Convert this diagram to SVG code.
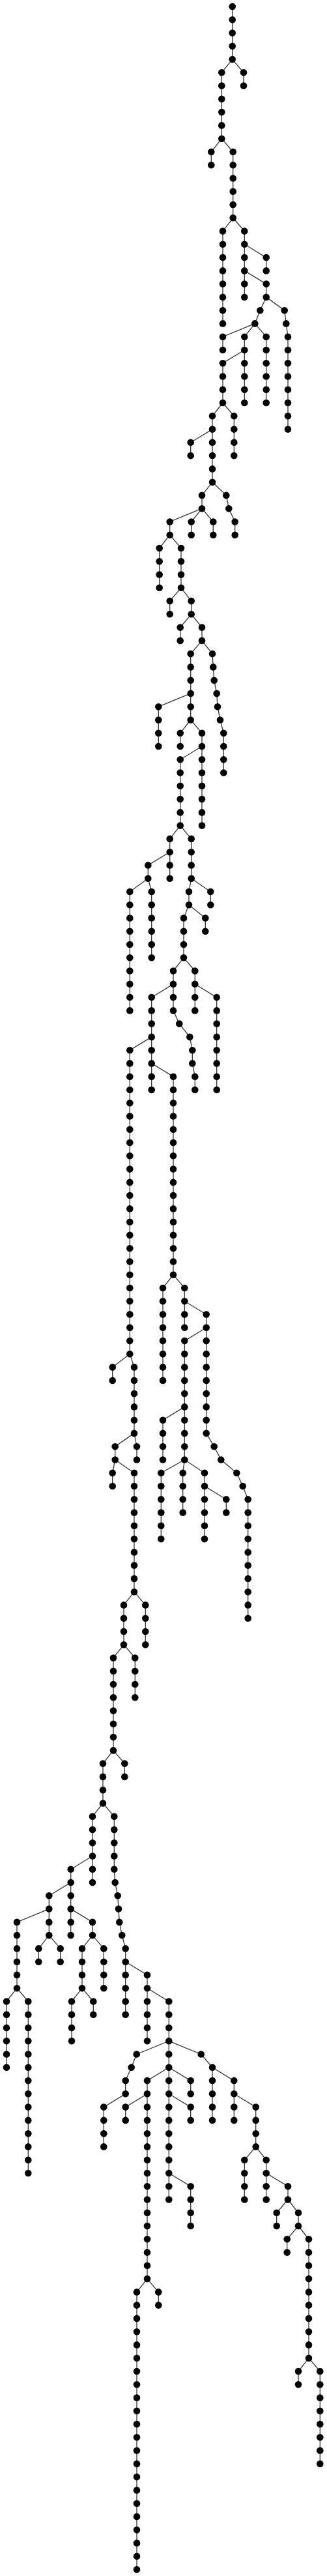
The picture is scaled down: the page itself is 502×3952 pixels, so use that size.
<svg xmlns="http://www.w3.org/2000/svg" width="502" height="3952" viewBox="0 0 502 3952">
<style>
.e{fill:none;stroke:#333;stroke-width:1.3}
circle{r:5.3px;fill:#000}
</style>
<rect width="502" height="3952" fill="#fff"/>
<g id="connectors">
<path class="e" d="M356.7,10 V91.1"/>
<path class="e" d="M356.7,91.1 L374,111.3 V131.6"/>
<path class="e" d="M356.7,91.1 L340.3,111.3 V212.7"/>
<path class="e" d="M340.3,212.7 L324.3,233 V253.2"/>
<path class="e" d="M340.3,212.7 L357.7,233 V334.3"/>
<path class="e" d="M357.7,334.3 L375.3,354.6 V455.9"/>
<path class="e" d="M375.3,374.8 L408.7,395.1 V415.4"/>
<path class="e" d="M375.3,415.4 L408.7,435.6 V455.9"/>
<path class="e" d="M408.7,455.9 L436.7,476.2 L439.3,496.4 L442,516.7 V658.6"/>
<path class="e" d="M408.7,455.9 L399.3,476.2 L391.3,496.4"/>
<path class="e" d="M391.3,496.4 L408.7,516.7 V618"/>
<path class="e" d="M391.3,496.4 L375.3,516.7 V618"/>
<path class="e" d="M391.3,496.4 L342,516.7 V537"/>
<path class="e" d="M375.3,537 L342,557.2 V618"/>
<path class="e" d="M357.7,334.3 L342,354.6 V496.4"/>
<path class="e" d="M342,618 L359.3,638.3 V699.1"/>
<path class="e" d="M342,618 L326,638.3 V739.7"/>
<path class="e" d="M326,658.6 L292.7,678.8 V699.1"/>
<path class="e" d="M326,739.7 L347.3,759.9 L351.3,780.2 L360.7,800.5 V820.7"/>
<path class="e" d="M326,739.7 L310,759.9 V780.2"/>
<path class="e" d="M310,780.2 L327.3,800.5 V820.7"/>
<path class="e" d="M310,780.2 L293.7,800.5 V820.7"/>
<path class="e" d="M310,780.2 L260.7,800.5 V820.7"/>
<path class="e" d="M260.7,820.7 L244.7,841 V901.8"/>
<path class="e" d="M260.7,820.7 L278,841 V901.8"/>
<path class="e" d="M278,901.8 L260.7,922.1 V942.3"/>
<path class="e" d="M278,901.8 L293.7,922.1 V942.3"/>
<path class="e" d="M293.7,942.3 L276.7,962.6 V982.9"/>
<path class="e" d="M293.7,942.3 L310,962.6 V982.9"/>
<path class="e" d="M310,982.9 L326,1003.1 L327.3,1023.4 L328.7,1043.7 L332.7,1063.9 L334,1084.2 L338,1104.5 L343.3,1124.7 V1185.5"/>
<path class="e" d="M310,982.9 L292.7,1003.1 V1104.5"/>
<path class="e" d="M292.7,1063.9 L243.3,1084.2 V1145"/>
<path class="e" d="M292.7,1104.5 L276.7,1124.7 V1145"/>
<path class="e" d="M292.7,1104.5 L310,1124.7 V1266.6"/>
<path class="e" d="M310,1145 L276.7,1165.3 V1266.6"/>
<path class="e" d="M276.7,1266.6 L293.7,1286.9 V1347.7"/>
<path class="e" d="M276.7,1266.6 L260.7,1286.9 V1347.7"/>
<path class="e" d="M260.7,1307.2 L227.3,1327.4 V1347.7"/>
<path class="e" d="M227.3,1347.7 L199.3,1368 V1550.4"/>
<path class="e" d="M227.3,1347.7 L232.7,1368 V1469.3"/>
<path class="e" d="M293.7,1347.7 L323.3,1368 V1388.2"/>
<path class="e" d="M293.7,1347.7 L290,1368 V1388.2"/>
<path class="e" d="M290,1388.2 L315.3,1408.5 V1428.8"/>
<path class="e" d="M290,1388.2 L282,1408.5 V1469.3"/>
<path class="e" d="M282,1469.3 L299.3,1489.6 V1550.4"/>
<path class="e" d="M299.3,1509.8 L332.7,1530.1 V1672"/>
<path class="e" d="M282,1469.3 L266,1489.6 V1550.4 L275.3,1570.6 L291.3,1590.9 L295.3,1611.2 V1631.4 L299.3,1651.7 V1672"/>
<path class="e" d="M266,1509.8 L232.7,1530.1 V1672"/>
<path class="e" d="M232.7,1590.9 L199.3,1611.2 V2077.3"/>
<path class="e" d="M232.7,1631.4 L266,1651.7 V1955.7"/>
<path class="e" d="M266,1955.7 L283.3,1976 V2036.8"/>
<path class="e" d="M283.3,1996.3 L316.7,2016.5 V2198.9 L328.7,2219.2 L339.3,2239.5 L363.3,2259.8 L372.7,2280 L380.7,2300.3 V2482.7"/>
<path class="e" d="M316.7,2036.8 L283.3,2057.1 V2239.5"/>
<path class="e" d="M283.3,2158.4 L250,2178.7 V2239.5"/>
<path class="e" d="M283.3,2239.5 L247.3,2259.8 V2361.1"/>
<path class="e" d="M283.3,2239.5 L280.7,2259.8 V2320.6"/>
<path class="e" d="M283.3,2239.5 L314,2259.8 V2361.1"/>
<path class="e" d="M314,2280 L347.3,2300.3 V2320.6"/>
<path class="e" d="M266,1955.7 L250,1976 V2117.9"/>
<path class="e" d="M199.3,2077.3 L172.7,2097.6 V2117.9"/>
<path class="e" d="M199.3,2077.3 L206,2097.6 V2198.9"/>
<path class="e" d="M206,2198.9 L210,2219.2 V2239.5"/>
<path class="e" d="M206,2198.9 L176.7,2219.2 V2239.5"/>
<path class="e" d="M176.7,2239.5 L172.7,2259.8 V2280"/>
<path class="e" d="M176.7,2239.5 L206,2259.8 V2442.2"/>
<path class="e" d="M206,2442.2 L223.3,2462.4 V2523.2"/>
<path class="e" d="M206,2442.2 L190,2462.4 V2523.2"/>
<path class="e" d="M190,2523.2 L207.3,2543.5 V2604.3"/>
<path class="e" d="M190,2523.2 L174,2543.5 V2685.4"/>
<path class="e" d="M174,2685.4 L191.3,2705.6 V2725.9"/>
<path class="e" d="M174,2685.4 L158,2705.6 V2766.5"/>
<path class="e" d="M158,2766.5 L142,2786.7 V2888.1"/>
<path class="e" d="M142,2847.5 L108.7,2867.8 V2969.1"/>
<path class="e" d="M108.7,2888.1 L75.3,2908.3 V2969.1"/>
<path class="e" d="M108.7,2928.6 L142,2948.9 V2969.1"/>
<path class="e" d="M75.3,2928.6 L26,2948.9 V3050.2"/>
<path class="e" d="M75.3,2969.1 L59.3,2989.4 V3009.7"/>
<path class="e" d="M75.3,2969.1 L92.7,2989.4 V3009.7"/>
<path class="e" d="M142,2969.1 L126,2989.4 V3050.2"/>
<path class="e" d="M142,2969.1 L159.3,2989.4 V3050.2"/>
<path class="e" d="M26,3050.2 L10,3070.5 V3171.8"/>
<path class="e" d="M26,3050.2 L43.3,3070.5 V3334"/>
<path class="e" d="M126,3050.2 L110,3070.5 V3131.3"/>
<path class="e" d="M126,3050.2 L143.3,3070.5 V3090.7"/>
<path class="e" d="M158,2766.5 L175.3,2786.7 V2867.8 L176.7,2888.1 L180.7,2908.3 L182,2928.6 L183.3,2948.9 L187.3,2969.1 L192.7,2989.4 V3090.7"/>
<path class="e" d="M192.7,3009.7 L226,3029.9 V3131.3"/>
<path class="e" d="M226,3050.2 L259.3,3070.5 V3374.5"/>
<path class="e" d="M259.3,3131.3 L209.7,3151.5 L201.7,3171.8 L192.7,3192.1 V3212.3 L159.3,3232.6 V3293.4"/>
<path class="e" d="M259.3,3212.3 L292.7,3232.6 V3252.9"/>
<path class="e" d="M259.3,3334 L292.7,3354.2 V3415"/>
<path class="e" d="M259.3,3171.8 L226,3192.1 V3496.1"/>
<path class="e" d="M226,3212.3 L192.7,3232.6 V3252.9"/>
<path class="e" d="M226,3496.1 L243.3,3516.4 V3536.6"/>
<path class="e" d="M226,3496.1 L210,3516.4 V3942"/>
<path class="e" d="M259.3,3171.8 L292.7,3192.1 V3212.3"/>
<path class="e" d="M259.3,3131.3 L308.7,3151.5 L326,3171.8 V3252.9"/>
<path class="e" d="M326,3171.8 L359.3,3192.1 V3252.9"/>
<path class="e" d="M359.3,3212.3 L392.7,3232.6 V3293.4"/>
<path class="e" d="M392.7,3293.4 L375.3,3313.7 V3374.5"/>
<path class="e" d="M392.7,3293.4 L408.7,3313.7 V3374.5"/>
<path class="e" d="M408.7,3334 L442,3354.2 V3374.5"/>
<path class="e" d="M442,3374.5 L424.7,3394.8 V3415"/>
<path class="e" d="M442,3374.5 L458,3394.8 V3415"/>
<path class="e" d="M458,3415 L440.7,3435.3 V3455.6"/>
<path class="e" d="M458,3415 L474,3435.3 V3617.7"/>
<path class="e" d="M474,3617.7 L458,3638 V3658.2"/>
<path class="e" d="M474,3617.7 L491.3,3638 V3779.9"/>
</g>
<g id="nodes">
<g id="n0"><circle cx="356.7" cy="10"/></g>
<g id="n1"><circle cx="356.7" cy="30.3"/></g>
<g id="n2"><circle cx="356.7" cy="50.5"/></g>
<g id="n3"><circle cx="356.7" cy="70.8"/></g>
<g id="n4"><circle cx="356.7" cy="91.1"/></g>
<g id="n5"><circle cx="374" cy="111.3"/></g>
<g id="n6"><circle cx="374" cy="131.6"/></g>
<g id="n7"><circle cx="340.3" cy="111.3"/></g>
<g id="n8"><circle cx="340.3" cy="131.6"/></g>
<g id="n9"><circle cx="340.3" cy="151.9"/></g>
<g id="n10"><circle cx="340.3" cy="172.1"/></g>
<g id="n11"><circle cx="340.3" cy="192.4"/></g>
<g id="n12"><circle cx="340.3" cy="212.7"/></g>
<g id="n13"><circle cx="324.3" cy="233"/></g>
<g id="n14"><circle cx="324.3" cy="253.2"/></g>
<g id="n15"><circle cx="357.7" cy="233"/></g>
<g id="n16"><circle cx="357.7" cy="253.2"/></g>
<g id="n17"><circle cx="357.7" cy="273.5"/></g>
<g id="n18"><circle cx="357.7" cy="293.8"/></g>
<g id="n19"><circle cx="357.7" cy="314"/></g>
<g id="n20"><circle cx="357.7" cy="334.3"/></g>
<g id="n21"><circle cx="375.3" cy="354.6"/></g>
<g id="n22"><circle cx="375.3" cy="374.8"/></g>
<g id="n23"><circle cx="375.3" cy="395.1"/></g>
<g id="n24"><circle cx="375.3" cy="415.4"/></g>
<g id="n25"><circle cx="375.3" cy="435.6"/></g>
<g id="n26"><circle cx="375.3" cy="455.9"/></g>
<g id="n27"><circle cx="408.7" cy="395.1"/></g>
<g id="n28"><circle cx="408.7" cy="415.4"/></g>
<g id="n29"><circle cx="408.7" cy="435.6"/></g>
<g id="n30"><circle cx="408.7" cy="455.9"/></g>
<g id="n31"><circle cx="436.7" cy="476.2"/></g>
<g id="n32"><circle cx="439.3" cy="496.4"/></g>
<g id="n33"><circle cx="442" cy="516.7"/></g>
<g id="n34"><circle cx="442" cy="537"/></g>
<g id="n35"><circle cx="442" cy="557.2"/></g>
<g id="n36"><circle cx="442" cy="577.5"/></g>
<g id="n37"><circle cx="442" cy="597.8"/></g>
<g id="n38"><circle cx="442" cy="618"/></g>
<g id="n39"><circle cx="442" cy="638.3"/></g>
<g id="n40"><circle cx="442" cy="658.6"/></g>
<g id="n41"><circle cx="399.3" cy="476.2"/></g>
<g id="n42"><circle cx="391.3" cy="496.4"/></g>
<g id="n43"><circle cx="408.7" cy="516.7"/></g>
<g id="n44"><circle cx="408.7" cy="537"/></g>
<g id="n45"><circle cx="408.7" cy="557.2"/></g>
<g id="n46"><circle cx="408.7" cy="577.5"/></g>
<g id="n47"><circle cx="408.7" cy="597.8"/></g>
<g id="n48"><circle cx="408.7" cy="618"/></g>
<g id="n49"><circle cx="375.3" cy="516.7"/></g>
<g id="n50"><circle cx="375.3" cy="537"/></g>
<g id="n51"><circle cx="375.3" cy="557.2"/></g>
<g id="n52"><circle cx="375.3" cy="577.5"/></g>
<g id="n53"><circle cx="375.3" cy="597.8"/></g>
<g id="n54"><circle cx="375.3" cy="618"/></g>
<g id="n55"><circle cx="342" cy="516.7"/></g>
<g id="n56"><circle cx="342" cy="537"/></g>
<g id="n57"><circle cx="342" cy="557.2"/></g>
<g id="n58"><circle cx="342" cy="577.5"/></g>
<g id="n59"><circle cx="342" cy="597.8"/></g>
<g id="n60"><circle cx="342" cy="618"/></g>
<g id="n61"><circle cx="342" cy="354.6"/></g>
<g id="n62"><circle cx="342" cy="374.8"/></g>
<g id="n63"><circle cx="342" cy="395.1"/></g>
<g id="n64"><circle cx="342" cy="415.4"/></g>
<g id="n65"><circle cx="342" cy="435.6"/></g>
<g id="n66"><circle cx="342" cy="455.9"/></g>
<g id="n67"><circle cx="342" cy="476.2"/></g>
<g id="n68"><circle cx="342" cy="496.4"/></g>
<g id="n69"><circle cx="359.3" cy="638.3"/></g>
<g id="n70"><circle cx="359.3" cy="658.6"/></g>
<g id="n71"><circle cx="359.3" cy="678.8"/></g>
<g id="n72"><circle cx="359.3" cy="699.1"/></g>
<g id="n73"><circle cx="326" cy="638.3"/></g>
<g id="n74"><circle cx="326" cy="658.6"/></g>
<g id="n75"><circle cx="326" cy="678.8"/></g>
<g id="n76"><circle cx="326" cy="699.1"/></g>
<g id="n77"><circle cx="326" cy="719.4"/></g>
<g id="n78"><circle cx="326" cy="739.7"/></g>
<g id="n79"><circle cx="292.7" cy="678.8"/></g>
<g id="n80"><circle cx="292.7" cy="699.1"/></g>
<g id="n81"><circle cx="347.3" cy="759.9"/></g>
<g id="n82"><circle cx="351.3" cy="780.2"/></g>
<g id="n83"><circle cx="360.7" cy="800.5"/></g>
<g id="n84"><circle cx="360.7" cy="820.7"/></g>
<g id="n85"><circle cx="310" cy="759.9"/></g>
<g id="n86"><circle cx="310" cy="780.2"/></g>
<g id="n87"><circle cx="327.3" cy="800.5"/></g>
<g id="n88"><circle cx="327.3" cy="820.7"/></g>
<g id="n89"><circle cx="293.7" cy="800.5"/></g>
<g id="n90"><circle cx="293.7" cy="820.7"/></g>
<g id="n91"><circle cx="260.7" cy="800.5"/></g>
<g id="n92"><circle cx="260.7" cy="820.7"/></g>
<g id="n93"><circle cx="244.7" cy="841"/></g>
<g id="n94"><circle cx="244.7" cy="861.3"/></g>
<g id="n95"><circle cx="244.7" cy="881.5"/></g>
<g id="n96"><circle cx="244.7" cy="901.8"/></g>
<g id="n97"><circle cx="278" cy="841"/></g>
<g id="n98"><circle cx="278" cy="861.3"/></g>
<g id="n99"><circle cx="278" cy="881.5"/></g>
<g id="n100"><circle cx="278" cy="901.8"/></g>
<g id="n101"><circle cx="260.7" cy="922.1"/></g>
<g id="n102"><circle cx="260.7" cy="942.3"/></g>
<g id="n103"><circle cx="293.7" cy="922.1"/></g>
<g id="n104"><circle cx="293.7" cy="942.3"/></g>
<g id="n105"><circle cx="276.7" cy="962.6"/></g>
<g id="n106"><circle cx="276.7" cy="982.9"/></g>
<g id="n107"><circle cx="310" cy="962.6"/></g>
<g id="n108"><circle cx="310" cy="982.9"/></g>
<g id="n109"><circle cx="326" cy="1003.1"/></g>
<g id="n110"><circle cx="327.3" cy="1023.4"/></g>
<g id="n111"><circle cx="328.7" cy="1043.7"/></g>
<g id="n112"><circle cx="332.7" cy="1063.9"/></g>
<g id="n113"><circle cx="334" cy="1084.2"/></g>
<g id="n114"><circle cx="338" cy="1104.5"/></g>
<g id="n115"><circle cx="343.3" cy="1124.7"/></g>
<g id="n116"><circle cx="343.3" cy="1145"/></g>
<g id="n117"><circle cx="343.3" cy="1165.3"/></g>
<g id="n118"><circle cx="343.3" cy="1185.5"/></g>
<g id="n119"><circle cx="292.7" cy="1003.1"/></g>
<g id="n120"><circle cx="292.7" cy="1023.4"/></g>
<g id="n121"><circle cx="292.7" cy="1043.7"/></g>
<g id="n122"><circle cx="292.7" cy="1063.9"/></g>
<g id="n123"><circle cx="292.7" cy="1084.2"/></g>
<g id="n124"><circle cx="292.7" cy="1104.5"/></g>
<g id="n125"><circle cx="243.3" cy="1084.2"/></g>
<g id="n126"><circle cx="243.3" cy="1104.5"/></g>
<g id="n127"><circle cx="243.3" cy="1124.7"/></g>
<g id="n128"><circle cx="243.3" cy="1145"/></g>
<g id="n129"><circle cx="276.7" cy="1124.7"/></g>
<g id="n130"><circle cx="276.7" cy="1145"/></g>
<g id="n131"><circle cx="310" cy="1124.7"/></g>
<g id="n132"><circle cx="310" cy="1145"/></g>
<g id="n133"><circle cx="310" cy="1165.3"/></g>
<g id="n134"><circle cx="310" cy="1185.5"/></g>
<g id="n135"><circle cx="310" cy="1205.8"/></g>
<g id="n136"><circle cx="310" cy="1226.1"/></g>
<g id="n137"><circle cx="310" cy="1246.4"/></g>
<g id="n138"><circle cx="310" cy="1266.6"/></g>
<g id="n139"><circle cx="276.7" cy="1165.3"/></g>
<g id="n140"><circle cx="276.7" cy="1185.5"/></g>
<g id="n141"><circle cx="276.7" cy="1205.8"/></g>
<g id="n142"><circle cx="276.7" cy="1226.1"/></g>
<g id="n143"><circle cx="276.7" cy="1246.4"/></g>
<g id="n144"><circle cx="276.7" cy="1266.6"/></g>
<g id="n145"><circle cx="293.7" cy="1286.9"/></g>
<g id="n146"><circle cx="293.7" cy="1307.2"/></g>
<g id="n147"><circle cx="293.7" cy="1327.4"/></g>
<g id="n148"><circle cx="293.7" cy="1347.7"/></g>
<g id="n149"><circle cx="260.7" cy="1286.9"/></g>
<g id="n150"><circle cx="260.7" cy="1307.2"/></g>
<g id="n151"><circle cx="260.7" cy="1327.4"/></g>
<g id="n152"><circle cx="260.7" cy="1347.7"/></g>
<g id="n153"><circle cx="227.3" cy="1327.4"/></g>
<g id="n154"><circle cx="227.3" cy="1347.7"/></g>
<g id="n155"><circle cx="199.3" cy="1368"/></g>
<g id="n156"><circle cx="199.3" cy="1388.2"/></g>
<g id="n157"><circle cx="199.3" cy="1408.5"/></g>
<g id="n158"><circle cx="199.3" cy="1428.8"/></g>
<g id="n159"><circle cx="199.3" cy="1449"/></g>
<g id="n160"><circle cx="199.3" cy="1469.3"/></g>
<g id="n161"><circle cx="199.3" cy="1489.6"/></g>
<g id="n162"><circle cx="199.3" cy="1509.8"/></g>
<g id="n163"><circle cx="199.3" cy="1530.1"/></g>
<g id="n164"><circle cx="199.3" cy="1550.4"/></g>
<g id="n165"><circle cx="232.7" cy="1368"/></g>
<g id="n166"><circle cx="232.7" cy="1388.2"/></g>
<g id="n167"><circle cx="232.7" cy="1408.5"/></g>
<g id="n168"><circle cx="232.7" cy="1428.8"/></g>
<g id="n169"><circle cx="232.7" cy="1449"/></g>
<g id="n170"><circle cx="232.7" cy="1469.3"/></g>
<g id="n171"><circle cx="323.3" cy="1368"/></g>
<g id="n172"><circle cx="323.3" cy="1388.2"/></g>
<g id="n173"><circle cx="290" cy="1368"/></g>
<g id="n174"><circle cx="290" cy="1388.2"/></g>
<g id="n175"><circle cx="315.3" cy="1408.5"/></g>
<g id="n176"><circle cx="315.3" cy="1428.8"/></g>
<g id="n177"><circle cx="282" cy="1408.5"/></g>
<g id="n178"><circle cx="282" cy="1428.8"/></g>
<g id="n179"><circle cx="282" cy="1449"/></g>
<g id="n180"><circle cx="282" cy="1469.3"/></g>
<g id="n181"><circle cx="299.3" cy="1489.6"/></g>
<g id="n182"><circle cx="299.3" cy="1509.8"/></g>
<g id="n183"><circle cx="299.3" cy="1530.1"/></g>
<g id="n184"><circle cx="299.3" cy="1550.4"/></g>
<g id="n185"><circle cx="332.7" cy="1530.1"/></g>
<g id="n186"><circle cx="332.7" cy="1550.4"/></g>
<g id="n187"><circle cx="332.7" cy="1570.6"/></g>
<g id="n188"><circle cx="332.7" cy="1590.9"/></g>
<g id="n189"><circle cx="332.7" cy="1611.2"/></g>
<g id="n190"><circle cx="332.7" cy="1631.4"/></g>
<g id="n191"><circle cx="332.7" cy="1651.7"/></g>
<g id="n192"><circle cx="332.7" cy="1672"/></g>
<g id="n193"><circle cx="266" cy="1489.6"/></g>
<g id="n194"><circle cx="266" cy="1509.8"/></g>
<g id="n195"><circle cx="266" cy="1530.1"/></g>
<g id="n196"><circle cx="266" cy="1550.4"/></g>
<g id="n197"><circle cx="275.3" cy="1570.6"/></g>
<g id="n198"><circle cx="291.3" cy="1590.9"/></g>
<g id="n199"><circle cx="295.3" cy="1611.2"/></g>
<g id="n200"><circle cx="295.3" cy="1631.4"/></g>
<g id="n201"><circle cx="299.3" cy="1651.7"/></g>
<g id="n202"><circle cx="299.3" cy="1672"/></g>
<g id="n203"><circle cx="232.7" cy="1530.1"/></g>
<g id="n204"><circle cx="232.7" cy="1550.4"/></g>
<g id="n205"><circle cx="232.7" cy="1570.6"/></g>
<g id="n206"><circle cx="232.7" cy="1590.9"/></g>
<g id="n207"><circle cx="232.7" cy="1611.2"/></g>
<g id="n208"><circle cx="232.7" cy="1631.4"/></g>
<g id="n209"><circle cx="232.7" cy="1651.7"/></g>
<g id="n210"><circle cx="232.7" cy="1672"/></g>
<g id="n211"><circle cx="199.3" cy="1611.2"/></g>
<g id="n212"><circle cx="199.3" cy="1631.4"/></g>
<g id="n213"><circle cx="199.3" cy="1651.7"/></g>
<g id="n214"><circle cx="199.3" cy="1672"/></g>
<g id="n215"><circle cx="199.3" cy="1692.2"/></g>
<g id="n216"><circle cx="199.3" cy="1712.5"/></g>
<g id="n217"><circle cx="199.3" cy="1732.8"/></g>
<g id="n218"><circle cx="199.3" cy="1753.1"/></g>
<g id="n219"><circle cx="199.3" cy="1773.3"/></g>
<g id="n220"><circle cx="199.3" cy="1793.6"/></g>
<g id="n221"><circle cx="199.3" cy="1813.9"/></g>
<g id="n222"><circle cx="199.3" cy="1834.1"/></g>
<g id="n223"><circle cx="199.3" cy="1854.4"/></g>
<g id="n224"><circle cx="199.3" cy="1874.7"/></g>
<g id="n225"><circle cx="199.3" cy="1894.9"/></g>
<g id="n226"><circle cx="199.3" cy="1915.2"/></g>
<g id="n227"><circle cx="199.3" cy="1935.5"/></g>
<g id="n228"><circle cx="199.3" cy="1955.7"/></g>
<g id="n229"><circle cx="199.3" cy="1976"/></g>
<g id="n230"><circle cx="199.3" cy="1996.3"/></g>
<g id="n231"><circle cx="199.3" cy="2016.5"/></g>
<g id="n232"><circle cx="199.3" cy="2036.8"/></g>
<g id="n233"><circle cx="199.3" cy="2057.1"/></g>
<g id="n234"><circle cx="199.3" cy="2077.3"/></g>
<g id="n235"><circle cx="266" cy="1651.7"/></g>
<g id="n236"><circle cx="266" cy="1672"/></g>
<g id="n237"><circle cx="266" cy="1692.2"/></g>
<g id="n238"><circle cx="266" cy="1712.5"/></g>
<g id="n239"><circle cx="266" cy="1732.8"/></g>
<g id="n240"><circle cx="266" cy="1753.1"/></g>
<g id="n241"><circle cx="266" cy="1773.3"/></g>
<g id="n242"><circle cx="266" cy="1793.6"/></g>
<g id="n243"><circle cx="266" cy="1813.9"/></g>
<g id="n244"><circle cx="266" cy="1834.1"/></g>
<g id="n245"><circle cx="266" cy="1854.4"/></g>
<g id="n246"><circle cx="266" cy="1874.7"/></g>
<g id="n247"><circle cx="266" cy="1894.9"/></g>
<g id="n248"><circle cx="266" cy="1915.2"/></g>
<g id="n249"><circle cx="266" cy="1935.5"/></g>
<g id="n250"><circle cx="266" cy="1955.7"/></g>
<g id="n251"><circle cx="283.3" cy="1976"/></g>
<g id="n252"><circle cx="283.3" cy="1996.3"/></g>
<g id="n253"><circle cx="283.3" cy="2016.5"/></g>
<g id="n254"><circle cx="283.3" cy="2036.8"/></g>
<g id="n255"><circle cx="316.7" cy="2016.5"/></g>
<g id="n256"><circle cx="316.7" cy="2036.8"/></g>
<g id="n257"><circle cx="316.7" cy="2057.1"/></g>
<g id="n258"><circle cx="316.7" cy="2077.3"/></g>
<g id="n259"><circle cx="316.7" cy="2097.6"/></g>
<g id="n260"><circle cx="316.7" cy="2117.9"/></g>
<g id="n261"><circle cx="316.7" cy="2138.1"/></g>
<g id="n262"><circle cx="316.7" cy="2158.4"/></g>
<g id="n263"><circle cx="316.7" cy="2178.7"/></g>
<g id="n264"><circle cx="316.7" cy="2198.9"/></g>
<g id="n265"><circle cx="328.7" cy="2219.2"/></g>
<g id="n266"><circle cx="339.3" cy="2239.5"/></g>
<g id="n267"><circle cx="363.3" cy="2259.8"/></g>
<g id="n268"><circle cx="372.7" cy="2280"/></g>
<g id="n269"><circle cx="380.7" cy="2300.3"/></g>
<g id="n270"><circle cx="380.7" cy="2320.6"/></g>
<g id="n271"><circle cx="380.7" cy="2340.8"/></g>
<g id="n272"><circle cx="380.7" cy="2361.1"/></g>
<g id="n273"><circle cx="380.7" cy="2381.4"/></g>
<g id="n274"><circle cx="380.7" cy="2401.6"/></g>
<g id="n275"><circle cx="380.7" cy="2421.9"/></g>
<g id="n276"><circle cx="380.7" cy="2442.2"/></g>
<g id="n277"><circle cx="380.7" cy="2462.4"/></g>
<g id="n278"><circle cx="380.7" cy="2482.7"/></g>
<g id="n279"><circle cx="283.3" cy="2057.1"/></g>
<g id="n280"><circle cx="283.3" cy="2077.3"/></g>
<g id="n281"><circle cx="283.3" cy="2097.6"/></g>
<g id="n282"><circle cx="283.3" cy="2117.9"/></g>
<g id="n283"><circle cx="283.3" cy="2138.1"/></g>
<g id="n284"><circle cx="283.3" cy="2158.4"/></g>
<g id="n285"><circle cx="283.3" cy="2178.7"/></g>
<g id="n286"><circle cx="283.3" cy="2198.9"/></g>
<g id="n287"><circle cx="283.3" cy="2219.2"/></g>
<g id="n288"><circle cx="283.3" cy="2239.5"/></g>
<g id="n289"><circle cx="250" cy="2178.7"/></g>
<g id="n290"><circle cx="250" cy="2198.9"/></g>
<g id="n291"><circle cx="250" cy="2219.2"/></g>
<g id="n292"><circle cx="250" cy="2239.5"/></g>
<g id="n293"><circle cx="247.3" cy="2259.8"/></g>
<g id="n294"><circle cx="247.3" cy="2280"/></g>
<g id="n295"><circle cx="247.3" cy="2300.3"/></g>
<g id="n296"><circle cx="247.3" cy="2320.6"/></g>
<g id="n297"><circle cx="247.3" cy="2340.8"/></g>
<g id="n298"><circle cx="247.3" cy="2361.1"/></g>
<g id="n299"><circle cx="280.7" cy="2259.8"/></g>
<g id="n300"><circle cx="280.7" cy="2280"/></g>
<g id="n301"><circle cx="280.7" cy="2300.3"/></g>
<g id="n302"><circle cx="280.7" cy="2320.6"/></g>
<g id="n303"><circle cx="314" cy="2259.8"/></g>
<g id="n304"><circle cx="314" cy="2280"/></g>
<g id="n305"><circle cx="314" cy="2300.3"/></g>
<g id="n306"><circle cx="314" cy="2320.6"/></g>
<g id="n307"><circle cx="314" cy="2340.8"/></g>
<g id="n308"><circle cx="314" cy="2361.1"/></g>
<g id="n309"><circle cx="347.3" cy="2300.3"/></g>
<g id="n310"><circle cx="347.3" cy="2320.6"/></g>
<g id="n311"><circle cx="250" cy="1976"/></g>
<g id="n312"><circle cx="250" cy="1996.3"/></g>
<g id="n313"><circle cx="250" cy="2016.5"/></g>
<g id="n314"><circle cx="250" cy="2036.8"/></g>
<g id="n315"><circle cx="250" cy="2057.1"/></g>
<g id="n316"><circle cx="250" cy="2077.3"/></g>
<g id="n317"><circle cx="250" cy="2097.6"/></g>
<g id="n318"><circle cx="250" cy="2117.9"/></g>
<g id="n319"><circle cx="172.7" cy="2097.6"/></g>
<g id="n320"><circle cx="172.7" cy="2117.9"/></g>
<g id="n321"><circle cx="206" cy="2097.6"/></g>
<g id="n322"><circle cx="206" cy="2117.9"/></g>
<g id="n323"><circle cx="206" cy="2138.1"/></g>
<g id="n324"><circle cx="206" cy="2158.4"/></g>
<g id="n325"><circle cx="206" cy="2178.7"/></g>
<g id="n326"><circle cx="206" cy="2198.9"/></g>
<g id="n327"><circle cx="210" cy="2219.2"/></g>
<g id="n328"><circle cx="210" cy="2239.5"/></g>
<g id="n329"><circle cx="176.7" cy="2219.2"/></g>
<g id="n330"><circle cx="176.7" cy="2239.5"/></g>
<g id="n331"><circle cx="172.7" cy="2259.8"/></g>
<g id="n332"><circle cx="172.7" cy="2280"/></g>
<g id="n333"><circle cx="206" cy="2259.8"/></g>
<g id="n334"><circle cx="206" cy="2280"/></g>
<g id="n335"><circle cx="206" cy="2300.3"/></g>
<g id="n336"><circle cx="206" cy="2320.6"/></g>
<g id="n337"><circle cx="206" cy="2340.8"/></g>
<g id="n338"><circle cx="206" cy="2361.1"/></g>
<g id="n339"><circle cx="206" cy="2381.4"/></g>
<g id="n340"><circle cx="206" cy="2401.6"/></g>
<g id="n341"><circle cx="206" cy="2421.9"/></g>
<g id="n342"><circle cx="206" cy="2442.2"/></g>
<g id="n343"><circle cx="223.3" cy="2462.4"/></g>
<g id="n344"><circle cx="223.3" cy="2482.7"/></g>
<g id="n345"><circle cx="223.3" cy="2503"/></g>
<g id="n346"><circle cx="223.3" cy="2523.2"/></g>
<g id="n347"><circle cx="190" cy="2462.4"/></g>
<g id="n348"><circle cx="190" cy="2482.7"/></g>
<g id="n349"><circle cx="190" cy="2503"/></g>
<g id="n350"><circle cx="190" cy="2523.2"/></g>
<g id="n351"><circle cx="207.3" cy="2543.5"/></g>
<g id="n352"><circle cx="207.3" cy="2563.8"/></g>
<g id="n353"><circle cx="207.3" cy="2584"/></g>
<g id="n354"><circle cx="207.3" cy="2604.3"/></g>
<g id="n355"><circle cx="174" cy="2543.5"/></g>
<g id="n356"><circle cx="174" cy="2563.8"/></g>
<g id="n357"><circle cx="174" cy="2584"/></g>
<g id="n358"><circle cx="174" cy="2604.3"/></g>
<g id="n359"><circle cx="174" cy="2624.6"/></g>
<g id="n360"><circle cx="174" cy="2644.8"/></g>
<g id="n361"><circle cx="174" cy="2665.1"/></g>
<g id="n362"><circle cx="174" cy="2685.4"/></g>
<g id="n363"><circle cx="191.3" cy="2705.6"/></g>
<g id="n364"><circle cx="191.3" cy="2725.9"/></g>
<g id="n365"><circle cx="158" cy="2705.6"/></g>
<g id="n366"><circle cx="158" cy="2725.9"/></g>
<g id="n367"><circle cx="158" cy="2746.2"/></g>
<g id="n368"><circle cx="158" cy="2766.5"/></g>
<g id="n369"><circle cx="142" cy="2786.7"/></g>
<g id="n370"><circle cx="142" cy="2807"/></g>
<g id="n371"><circle cx="142" cy="2827.3"/></g>
<g id="n372"><circle cx="142" cy="2847.5"/></g>
<g id="n373"><circle cx="142" cy="2867.8"/></g>
<g id="n374"><circle cx="142" cy="2888.1"/></g>
<g id="n375"><circle cx="108.7" cy="2867.8"/></g>
<g id="n376"><circle cx="108.7" cy="2888.1"/></g>
<g id="n377"><circle cx="108.7" cy="2908.3"/></g>
<g id="n378"><circle cx="108.7" cy="2928.6"/></g>
<g id="n379"><circle cx="108.7" cy="2948.9"/></g>
<g id="n380"><circle cx="108.7" cy="2969.1"/></g>
<g id="n381"><circle cx="75.3" cy="2908.3"/></g>
<g id="n382"><circle cx="75.3" cy="2928.6"/></g>
<g id="n383"><circle cx="75.3" cy="2948.9"/></g>
<g id="n384"><circle cx="75.3" cy="2969.1"/></g>
<g id="n385"><circle cx="142" cy="2948.9"/></g>
<g id="n386"><circle cx="142" cy="2969.1"/></g>
<g id="n387"><circle cx="26" cy="2948.9"/></g>
<g id="n388"><circle cx="26" cy="2969.1"/></g>
<g id="n389"><circle cx="26" cy="2989.4"/></g>
<g id="n390"><circle cx="26" cy="3009.7"/></g>
<g id="n391"><circle cx="26" cy="3029.9"/></g>
<g id="n392"><circle cx="26" cy="3050.2"/></g>
<g id="n393"><circle cx="59.3" cy="2989.4"/></g>
<g id="n394"><circle cx="59.3" cy="3009.7"/></g>
<g id="n395"><circle cx="92.7" cy="2989.4"/></g>
<g id="n396"><circle cx="92.7" cy="3009.7"/></g>
<g id="n397"><circle cx="126" cy="2989.4"/></g>
<g id="n398"><circle cx="126" cy="3009.7"/></g>
<g id="n399"><circle cx="126" cy="3029.9"/></g>
<g id="n400"><circle cx="126" cy="3050.2"/></g>
<g id="n401"><circle cx="159.3" cy="2989.4"/></g>
<g id="n402"><circle cx="159.3" cy="3009.7"/></g>
<g id="n403"><circle cx="159.3" cy="3029.9"/></g>
<g id="n404"><circle cx="159.3" cy="3050.2"/></g>
<g id="n405"><circle cx="10" cy="3070.5"/></g>
<g id="n406"><circle cx="10" cy="3090.7"/></g>
<g id="n407"><circle cx="10" cy="3111"/></g>
<g id="n408"><circle cx="10" cy="3131.3"/></g>
<g id="n409"><circle cx="10" cy="3151.5"/></g>
<g id="n410"><circle cx="10" cy="3171.8"/></g>
<g id="n411"><circle cx="43.3" cy="3070.5"/></g>
<g id="n412"><circle cx="43.3" cy="3090.7"/></g>
<g id="n413"><circle cx="43.3" cy="3111"/></g>
<g id="n414"><circle cx="43.3" cy="3131.3"/></g>
<g id="n415"><circle cx="43.3" cy="3151.5"/></g>
<g id="n416"><circle cx="43.3" cy="3171.8"/></g>
<g id="n417"><circle cx="43.3" cy="3192.1"/></g>
<g id="n418"><circle cx="43.3" cy="3212.3"/></g>
<g id="n419"><circle cx="43.3" cy="3232.6"/></g>
<g id="n420"><circle cx="43.3" cy="3252.9"/></g>
<g id="n421"><circle cx="43.3" cy="3273.2"/></g>
<g id="n422"><circle cx="43.3" cy="3293.4"/></g>
<g id="n423"><circle cx="43.3" cy="3313.7"/></g>
<g id="n424"><circle cx="43.3" cy="3334"/></g>
<g id="n425"><circle cx="110" cy="3070.5"/></g>
<g id="n426"><circle cx="110" cy="3090.7"/></g>
<g id="n427"><circle cx="110" cy="3111"/></g>
<g id="n428"><circle cx="110" cy="3131.3"/></g>
<g id="n429"><circle cx="143.3" cy="3070.5"/></g>
<g id="n430"><circle cx="143.3" cy="3090.7"/></g>
<g id="n431"><circle cx="175.3" cy="2786.7"/></g>
<g id="n432"><circle cx="175.3" cy="2807"/></g>
<g id="n433"><circle cx="175.3" cy="2827.3"/></g>
<g id="n434"><circle cx="175.3" cy="2847.5"/></g>
<g id="n435"><circle cx="175.3" cy="2867.8"/></g>
<g id="n436"><circle cx="176.7" cy="2888.1"/></g>
<g id="n437"><circle cx="180.7" cy="2908.3"/></g>
<g id="n438"><circle cx="182" cy="2928.6"/></g>
<g id="n439"><circle cx="183.3" cy="2948.9"/></g>
<g id="n440"><circle cx="187.3" cy="2969.1"/></g>
<g id="n441"><circle cx="192.7" cy="2989.4"/></g>
<g id="n442"><circle cx="192.7" cy="3009.7"/></g>
<g id="n443"><circle cx="192.7" cy="3029.9"/></g>
<g id="n444"><circle cx="192.7" cy="3050.2"/></g>
<g id="n445"><circle cx="192.7" cy="3070.5"/></g>
<g id="n446"><circle cx="192.7" cy="3090.7"/></g>
<g id="n447"><circle cx="226" cy="3029.9"/></g>
<g id="n448"><circle cx="226" cy="3050.2"/></g>
<g id="n449"><circle cx="226" cy="3070.5"/></g>
<g id="n450"><circle cx="226" cy="3090.7"/></g>
<g id="n451"><circle cx="226" cy="3111"/></g>
<g id="n452"><circle cx="226" cy="3131.3"/></g>
<g id="n453"><circle cx="259.3" cy="3070.5"/></g>
<g id="n454"><circle cx="259.3" cy="3090.7"/></g>
<g id="n455"><circle cx="259.3" cy="3111"/></g>
<g id="n456"><circle cx="259.3" cy="3131.3"/></g>
<g id="n457"><circle cx="209.7" cy="3151.5"/></g>
<g id="n458"><circle cx="201.7" cy="3171.8"/></g>
<g id="n459"><circle cx="192.7" cy="3192.1"/></g>
<g id="n460"><circle cx="192.7" cy="3212.3"/></g>
<g id="n461"><circle cx="159.3" cy="3232.6"/></g>
<g id="n462"><circle cx="159.3" cy="3252.9"/></g>
<g id="n463"><circle cx="159.3" cy="3273.2"/></g>
<g id="n464"><circle cx="159.3" cy="3293.4"/></g>
<g id="n465"><circle cx="259.3" cy="3151.5"/></g>
<g id="n466"><circle cx="259.3" cy="3171.8"/></g>
<g id="n467"><circle cx="259.3" cy="3192.1"/></g>
<g id="n468"><circle cx="259.3" cy="3212.3"/></g>
<g id="n469"><circle cx="259.3" cy="3232.6"/></g>
<g id="n470"><circle cx="259.3" cy="3252.9"/></g>
<g id="n471"><circle cx="259.3" cy="3273.2"/></g>
<g id="n472"><circle cx="259.3" cy="3293.4"/></g>
<g id="n473"><circle cx="259.3" cy="3313.7"/></g>
<g id="n474"><circle cx="259.3" cy="3334"/></g>
<g id="n475"><circle cx="259.3" cy="3354.2"/></g>
<g id="n476"><circle cx="259.3" cy="3374.5"/></g>
<g id="n477"><circle cx="292.7" cy="3232.6"/></g>
<g id="n478"><circle cx="292.7" cy="3252.9"/></g>
<g id="n479"><circle cx="292.7" cy="3354.2"/></g>
<g id="n480"><circle cx="292.7" cy="3374.5"/></g>
<g id="n481"><circle cx="292.7" cy="3394.8"/></g>
<g id="n482"><circle cx="292.7" cy="3415"/></g>
<g id="n483"><circle cx="226" cy="3192.1"/></g>
<g id="n484"><circle cx="226" cy="3212.3"/></g>
<g id="n485"><circle cx="226" cy="3232.6"/></g>
<g id="n486"><circle cx="226" cy="3252.9"/></g>
<g id="n487"><circle cx="226" cy="3273.2"/></g>
<g id="n488"><circle cx="226" cy="3293.4"/></g>
<g id="n489"><circle cx="226" cy="3313.7"/></g>
<g id="n490"><circle cx="226" cy="3334"/></g>
<g id="n491"><circle cx="226" cy="3354.2"/></g>
<g id="n492"><circle cx="226" cy="3374.5"/></g>
<g id="n493"><circle cx="226" cy="3394.8"/></g>
<g id="n494"><circle cx="226" cy="3415"/></g>
<g id="n495"><circle cx="226" cy="3435.3"/></g>
<g id="n496"><circle cx="226" cy="3455.6"/></g>
<g id="n497"><circle cx="226" cy="3475.8"/></g>
<g id="n498"><circle cx="226" cy="3496.1"/></g>
<g id="n499"><circle cx="192.7" cy="3232.6"/></g>
<g id="n500"><circle cx="192.7" cy="3252.9"/></g>
<g id="n501"><circle cx="243.3" cy="3516.4"/></g>
<g id="n502"><circle cx="243.3" cy="3536.6"/></g>
<g id="n503"><circle cx="210" cy="3516.4"/></g>
<g id="n504"><circle cx="210" cy="3536.6"/></g>
<g id="n505"><circle cx="210" cy="3556.9"/></g>
<g id="n506"><circle cx="210" cy="3577.2"/></g>
<g id="n507"><circle cx="210" cy="3597.4"/></g>
<g id="n508"><circle cx="210" cy="3617.7"/></g>
<g id="n509"><circle cx="210" cy="3638"/></g>
<g id="n510"><circle cx="210" cy="3658.2"/></g>
<g id="n511"><circle cx="210" cy="3678.5"/></g>
<g id="n512"><circle cx="210" cy="3698.8"/></g>
<g id="n513"><circle cx="210" cy="3719"/></g>
<g id="n514"><circle cx="210" cy="3739.3"/></g>
<g id="n515"><circle cx="210" cy="3759.6"/></g>
<g id="n516"><circle cx="210" cy="3779.9"/></g>
<g id="n517"><circle cx="210" cy="3800.1"/></g>
<g id="n518"><circle cx="210" cy="3820.4"/></g>
<g id="n519"><circle cx="210" cy="3840.7"/></g>
<g id="n520"><circle cx="210" cy="3860.9"/></g>
<g id="n521"><circle cx="210" cy="3881.2"/></g>
<g id="n522"><circle cx="210" cy="3901.5"/></g>
<g id="n523"><circle cx="210" cy="3921.7"/></g>
<g id="n524"><circle cx="210" cy="3942"/></g>
<g id="n525"><circle cx="292.7" cy="3192.1"/></g>
<g id="n526"><circle cx="292.7" cy="3212.3"/></g>
<g id="n527"><circle cx="308.7" cy="3151.5"/></g>
<g id="n528"><circle cx="326" cy="3171.8"/></g>
<g id="n529"><circle cx="326" cy="3192.1"/></g>
<g id="n530"><circle cx="326" cy="3212.3"/></g>
<g id="n531"><circle cx="326" cy="3232.6"/></g>
<g id="n532"><circle cx="326" cy="3252.9"/></g>
<g id="n533"><circle cx="359.3" cy="3192.1"/></g>
<g id="n534"><circle cx="359.3" cy="3212.3"/></g>
<g id="n535"><circle cx="359.3" cy="3232.6"/></g>
<g id="n536"><circle cx="359.3" cy="3252.9"/></g>
<g id="n537"><circle cx="392.7" cy="3232.6"/></g>
<g id="n538"><circle cx="392.7" cy="3252.9"/></g>
<g id="n539"><circle cx="392.7" cy="3273.2"/></g>
<g id="n540"><circle cx="392.7" cy="3293.4"/></g>
<g id="n541"><circle cx="375.3" cy="3313.7"/></g>
<g id="n542"><circle cx="375.3" cy="3334"/></g>
<g id="n543"><circle cx="375.3" cy="3354.2"/></g>
<g id="n544"><circle cx="375.3" cy="3374.5"/></g>
<g id="n545"><circle cx="408.7" cy="3313.7"/></g>
<g id="n546"><circle cx="408.7" cy="3334"/></g>
<g id="n547"><circle cx="408.7" cy="3354.2"/></g>
<g id="n548"><circle cx="408.7" cy="3374.5"/></g>
<g id="n549"><circle cx="442" cy="3354.2"/></g>
<g id="n550"><circle cx="442" cy="3374.5"/></g>
<g id="n551"><circle cx="424.7" cy="3394.8"/></g>
<g id="n552"><circle cx="424.7" cy="3415"/></g>
<g id="n553"><circle cx="458" cy="3394.8"/></g>
<g id="n554"><circle cx="458" cy="3415"/></g>
<g id="n555"><circle cx="440.7" cy="3435.3"/></g>
<g id="n556"><circle cx="440.7" cy="3455.6"/></g>
<g id="n557"><circle cx="474" cy="3435.3"/></g>
<g id="n558"><circle cx="474" cy="3455.6"/></g>
<g id="n559"><circle cx="474" cy="3475.8"/></g>
<g id="n560"><circle cx="474" cy="3496.1"/></g>
<g id="n561"><circle cx="474" cy="3516.4"/></g>
<g id="n562"><circle cx="474" cy="3536.6"/></g>
<g id="n563"><circle cx="474" cy="3556.9"/></g>
<g id="n564"><circle cx="474" cy="3577.2"/></g>
<g id="n565"><circle cx="474" cy="3597.4"/></g>
<g id="n566"><circle cx="474" cy="3617.7"/></g>
<g id="n567"><circle cx="458" cy="3638"/></g>
<g id="n568"><circle cx="458" cy="3658.2"/></g>
<g id="n569"><circle cx="491.3" cy="3638"/></g>
<g id="n570"><circle cx="491.3" cy="3658.2"/></g>
<g id="n571"><circle cx="491.3" cy="3678.5"/></g>
<g id="n572"><circle cx="491.3" cy="3698.8"/></g>
<g id="n573"><circle cx="491.3" cy="3719"/></g>
<g id="n574"><circle cx="491.3" cy="3739.3"/></g>
<g id="n575"><circle cx="491.3" cy="3759.6"/></g>
<g id="n576"><circle cx="491.3" cy="3779.9"/></g>
</g>
</svg>
